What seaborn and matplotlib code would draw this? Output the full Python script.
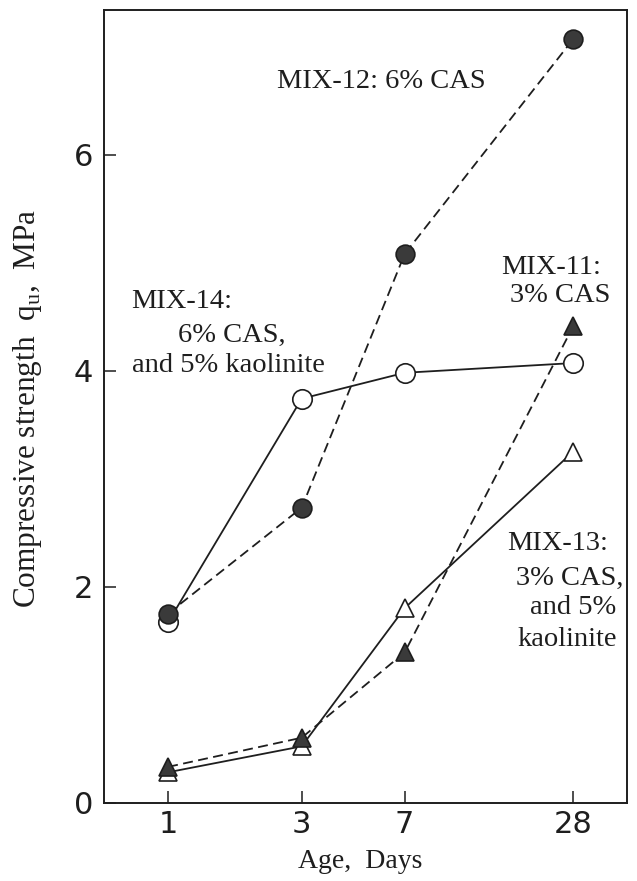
import matplotlib
matplotlib.use("Agg")
import matplotlib.pyplot as plt
from matplotlib.ticker import NullLocator, FixedLocator, FixedFormatter
import seaborn as sns
import pandas as pd

# ---- data ----
days = [1, 3, 7, 28]
mix12 = [1.75, 2.73, 5.08, 7.07]   # 6% CAS (filled circles, dashed)
mix14 = [1.67, 3.74, 3.98, 4.07]   # 6% CAS + 5% kaolinite (open circles, solid)
mix11 = [0.33, 0.60, 1.39, 4.41]   # 3% CAS (filled triangles, dashed)
mix13 = [0.28, 0.52, 1.80, 3.25]   # 3% CAS + 5% kaolinite (open triangles, solid)
x_ticks = [1, 3, 7, 28]
x_tick_labels = ["1", "3", "7", "28"]
y_ticks = [0, 2, 4, 6]
y_tick_labels = ["0", "2", "4", "6"]

sns.set_style("white")
plt.rcParams["font.family"] = ["DejaVu Sans"]

W, H = 637, 881
fig = plt.figure(figsize=(W / 100, H / 100), dpi=100)
ax = fig.add_axes([104 / W, 1 - 802.5 / H, (627 - 104) / W, (802.5 - 10) / H])

ink = "#1e1e1e"
fill = "#3a3a3a"
lw = 1.3
dash = (0, (5.5, 3))

series = [
    ("MIX-14", mix14, "o", "white", "-", 14),
    ("MIX-13", mix13, "^", "white", "-", 13),
    ("MIX-12", mix12, "o", fill, dash, 13.5),
    ("MIX-11", mix11, "^", fill, dash, 13),
]
for name, vals, mk, fc, ls, ms in series:
    df = pd.DataFrame({"day": days, "q": vals})
    sns.lineplot(data=df, x="day", y="q", ax=ax, color=ink, linewidth=lw,
                 linestyle=ls, marker=mk, markersize=ms, markerfacecolor=fc,
                 markeredgecolor=ink, markeredgewidth=1.2, legend=False)

ax.set_xscale("log")
ax.set_xlim(0.59, 43.6)
ax.set_ylim(0, 7.34)
ax.xaxis.set_major_locator(FixedLocator(x_ticks))
ax.xaxis.set_major_formatter(FixedFormatter(x_tick_labels))
ax.xaxis.set_minor_locator(NullLocator())
ax.yaxis.set_major_locator(FixedLocator(y_ticks))
ax.yaxis.set_major_formatter(FixedFormatter(y_tick_labels))

for s in ax.spines.values():
    s.set_visible(True)
    s.set_color(ink)
    s.set_linewidth(1.4)

ax.tick_params(axis="x", direction="in", length=9, width=1.1, color=ink,
               labelsize=22, pad=5.5, labelcolor=ink, top=False, bottom=True)
ax.tick_params(axis="y", direction="in", length=8.5, width=1.1, color=ink,
               labelsize=22, pad=8, labelcolor=ink, left=True, right=False)

serif = ["Liberation Serif", "DejaVu Serif"]
ax.set_xlabel("Age,  Days", fontsize=20, family=serif, color=ink)
ax.xaxis.set_label_coords((360 - 104) / 523, (802.5 - 862) / 792.5)
ax.xaxis.label.set_verticalalignment("center")
ax.set_ylabel(r"Compressive strength  q$_{\mathregular{u}}$,  MPa",
              fontsize=22.5, family=serif, color=ink)
ax.yaxis.set_label_coords((28 - 104) / 523, (802.5 - 408) / 792.5)
ax.yaxis.label.set_verticalalignment("center")


def note(txt, px, py, ha="center"):
    fig.text(px / W, 1 - py / H, txt, ha=ha, va="center", fontsize=20.5,
             family=serif, color=ink)


note("MIX-12: 6% CAS", 381, 82)
note("MIX-11:", 551, 267)
note("3% CAS", 560, 295)
note("MIX-14:", 131, 302, ha="left")
note("6% CAS,", 232, 335)
note("and 5% kaolinite", 228, 366)
note("MIX-13:", 558, 543)
note("3% CAS,", 570, 578)
note("and 5%", 573, 608)
note("kaolinite", 567, 640)

fig.savefig("out.png", dpi=100, facecolor="white")
